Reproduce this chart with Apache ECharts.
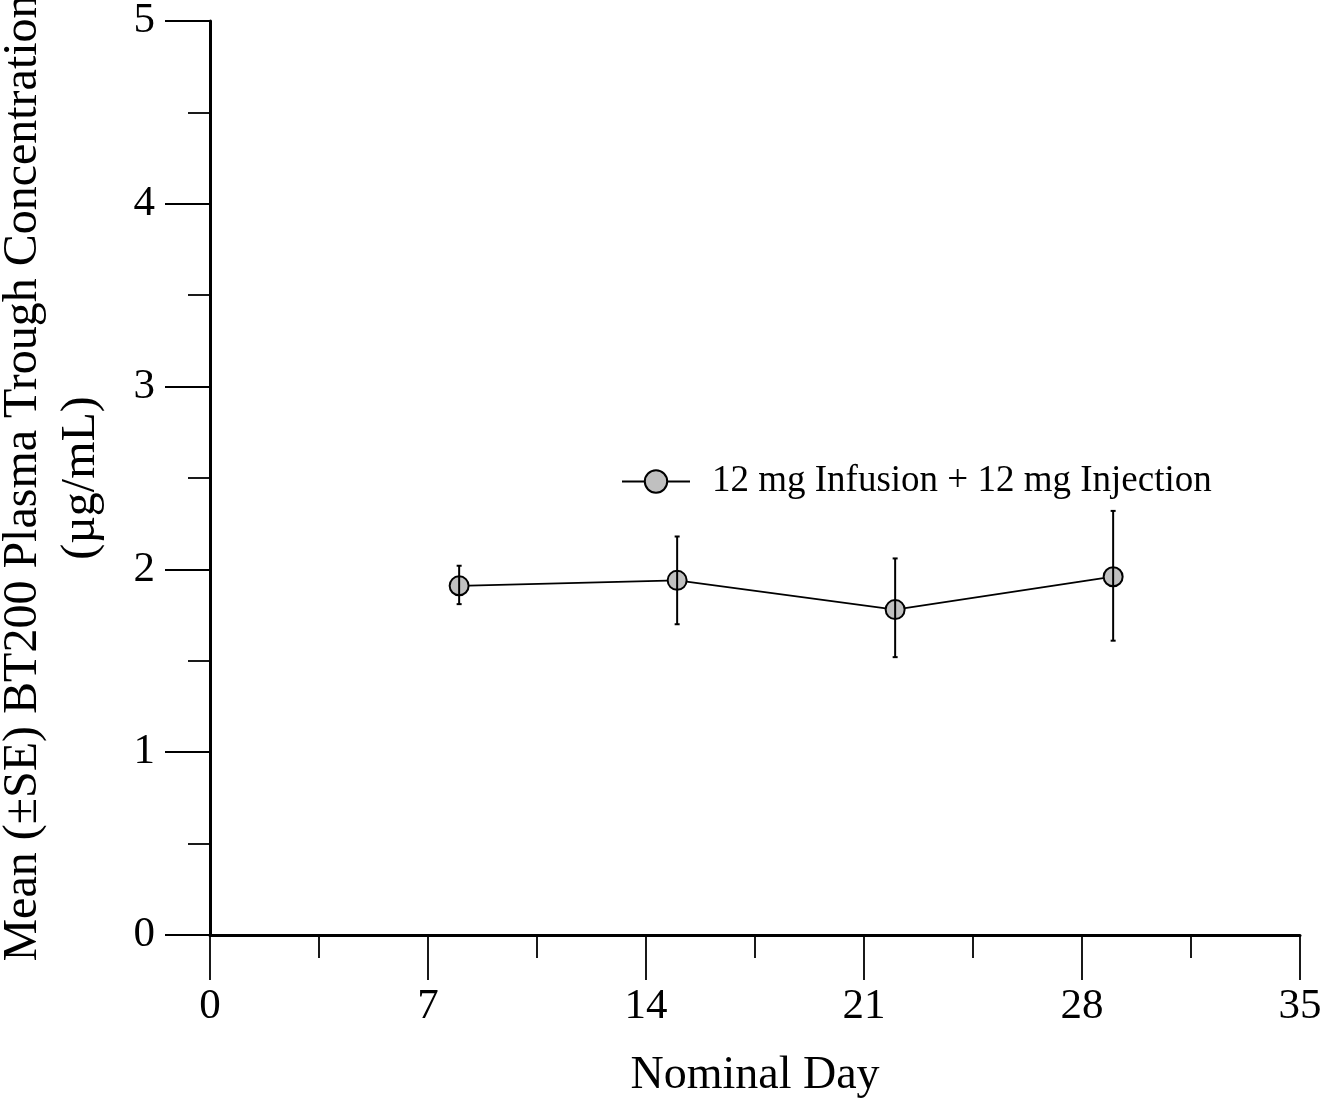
<!DOCTYPE html>
<html>
<head>
<meta charset="utf-8">
<script src="https://cdn.jsdelivr.net/npm/echarts@6/dist/echarts.min.js"></script>
<style>
  html, body { margin: 0; padding: 0; background: #fff; }
  #chart { width: 1322px; height: 1101px; }
</style>
</head>
<body>
<div id="chart"></div>
<script>
const days = [8, 15, 22, 29];
const meanConc = [1.91, 1.94, 1.78, 1.96];
const seLow = [1.81, 1.70, 1.52, 1.61];
const seHigh = [2.02, 2.18, 2.06, 2.32];
const seriesName = '12 mg Infusion + 12 mg Injection';

const font = 'Liberation Serif, Times New Roman, serif';
const chart = echarts.init(document.getElementById('chart'));

chart.setOption({
  animation: false,
  grid: { left: 210, right: 22, top: 21, bottom: 166, outerBoundsMode: 'none', containLabel: false },
  legend: {
    data: [seriesName],
    left: 616, top: 458,
    itemWidth: 68, itemHeight: 28,
    textStyle: { fontFamily: font, fontSize: 37, color: '#000', padding: [0, 0, 0, 17] }
  },
  xAxis: {
    type: 'value', min: 0, max: 35, interval: 7,
    name: 'Nominal Day', nameLocation: 'middle', nameGap: 118,
    nameTextStyle: { fontFamily: font, fontSize: 46, color: '#000' },
    axisLine: { show: true, onZero: false, lineStyle: { color: '#000', width: 3 } },
    axisTick: { show: true, inside: false, length: 45, lineStyle: { color: '#000', width: 1.8 } },
    minorTick: { show: true, splitNumber: 2, length: 23, lineStyle: { color: '#000', width: 1.8 } },
    axisLabel: { fontFamily: font, fontSize: 43, color: '#000', margin: 50 },
    splitLine: { show: false }
  },
  yAxis: {
    type: 'value', min: 0, max: 5, interval: 1,
    name: 'Mean (\u00b1SE) BT200 Plasma Trough Concentration\n(\u00b5g/mL)',
    nameLocation: 'middle', nameRotate: 90, nameGap: 100,
    nameTextStyle: { fontFamily: font, fontSize: 48, color: '#000', lineHeight: 58 },
    axisLine: { show: true, lineStyle: { color: '#000', width: 3 } },
    axisTick: { show: true, inside: false, length: 45, lineStyle: { color: '#000', width: 1.8 } },
    minorTick: { show: true, splitNumber: 2, length: 22, lineStyle: { color: '#000', width: 1.8 } },
    axisLabel: { fontFamily: font, fontSize: 43, color: '#000', margin: 55 },
    splitLine: { show: false }
  },
  series: [
    {
      name: seriesName,
      type: 'line',
      data: days.map((d, i) => [d, meanConc[i]]),
      symbol: 'circle', symbolSize: 19,
      lineStyle: { color: '#000', width: 1.8 },
      itemStyle: { color: '#c0c0c0', borderColor: '#000', borderWidth: 2 },
      z: 2
    },
    {
      name: 'SE',
      type: 'custom',
      data: days.map((d, i) => [d, seLow[i], seHigh[i]]),
      z: 3,
      renderItem: function (params, api) {
        const x = api.value(0);
        const lo = api.coord([x, api.value(1)]);
        const hi = api.coord([x, api.value(2)]);
        const cap = 2.5;
        const st = { stroke: '#000', lineWidth: 2 };
        return {
          type: 'group',
          children: [
            { type: 'line', shape: { x1: lo[0], y1: lo[1], x2: hi[0], y2: hi[1] }, style: st },
            { type: 'line', shape: { x1: lo[0] - cap, y1: lo[1], x2: lo[0] + cap, y2: lo[1] }, style: st },
            { type: 'line', shape: { x1: hi[0] - cap, y1: hi[1], x2: hi[0] + cap, y2: hi[1] }, style: st }
          ]
        };
      }
    }
  ]
});
</script>
</body>
</html>
